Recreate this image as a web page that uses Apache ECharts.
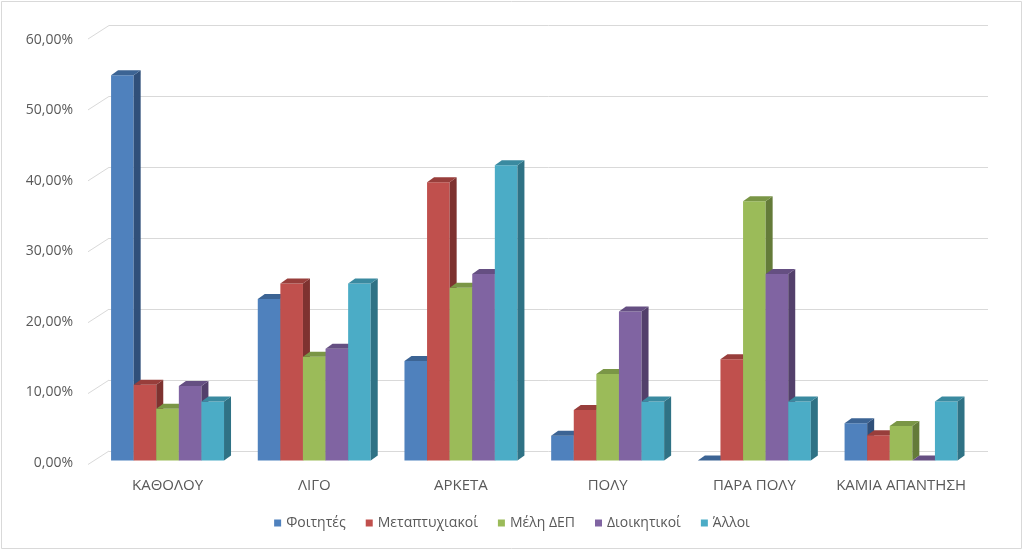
<!DOCTYPE html>
<html>
<head>
<meta charset="utf-8">
<script src="https://cdn.jsdelivr.net/npm/echarts@6/dist/echarts.min.js"></script>
<style>
html,body{margin:0;padding:0;background:#fff;}
#chart{width:1024px;height:551px;}
</style>
</head>
<body>
<div id="chart"></div>
<script>
// ---- data ----
var categories = ['ΚΑΘΟΛΟΥ', 'ΛΙΓΟ', 'ΑΡΚΕΤΑ', 'ΠΟΛΥ', 'ΠΑΡΑ ΠΟΛΥ', 'ΚΑΜΙΑ ΑΠΑΝΤΗΣΗ'];
var seriesNames = ['Φοιτητές', 'Μεταπτυχιακοί', 'Μέλη ΔΕΠ', 'Διοικητικοί', 'Άλλοι'];
var foititesValues = [54.39, 22.81, 14.04, 3.51, 0, 5.26];
var metaptyxiakoiValues = [10.71, 25.00, 39.29, 7.14, 14.29, 3.57];
var melhDepValues = [7.32, 14.63, 24.39, 12.20, 36.59, 4.88];
var dioikhtikoiValues = [10.53, 15.79, 26.32, 21.05, 26.32, 0];
var alloiValues = [8.33, 25.00, 41.67, 8.33, 8.33, 8.33];
var yTicks = [0, 10, 20, 30, 40, 50, 60];

var allValues = [foititesValues, metaptyxiakoiValues, melhDepValues, dioikhtikoiValues, alloiValues];
var colors = ['#4F81BD', '#C0504D', '#9BBB59', '#8064A2', '#4BACC6'];
var topColors = ['#3C6494', '#983E3B', '#7A9646', '#654F82', '#3A8AA0'];
var sideColors = ['#30507A', '#7E3230', '#647B39', '#53406B', '#2F7285'];

var DX = 7, DY = 5;
var FONT = '"Open Sans", "Noto Sans", sans-serif';

function makeRender(si) {
  return function (params, api) {
    var cat = api.value(0), v = api.value(1);
    var base = api.coord([cat, 0]);
    var top = api.coord([cat, v]);
    var band = api.size([1, 0])[0];
    var bw = band * 0.77 / 5;
    var x0 = base[0] - 2.5 * bw + si * bw;
    var x1 = x0 + bw;
    var yT = top[1], yB = base[1];
    return {
      type: 'group',
      children: [
        { type: 'rect', shape: { x: x0, y: yT, width: bw, height: yB - yT }, style: { fill: colors[si] } },
        { type: 'polygon', shape: { points: [[x1, yT], [x1 + DX, yT - DY], [x1 + DX, yB - DY], [x1, yB]] }, style: { fill: sideColors[si] } },
        { type: 'polygon', shape: { points: [[x0, yT], [x1, yT], [x1 + DX, yT - DY], [x0 + DX, yT - DY]] }, style: { fill: topColors[si] } }
      ]
    };
  };
}

var series = [];
// left wall diagonal gridlines on back wall grid
series.push({
  type: 'custom',
  xAxisIndex: 0, yAxisIndex: 0,
  silent: true,
  data: yTicks.map(function (t) { return [0, t]; }),
  renderItem: function (params, api) {
    var p = api.coord([0, api.value(1)]);
    return { type: 'line', shape: { x1: p[0], y1: p[1], x2: p[0] - 21, y2: p[1] + 13.5 }, style: { stroke: '#D9D9D9', lineWidth: 1 } };
  },
  z: 1
});
allValues.forEach(function (vals, si) {
  series.push({
    type: 'custom',
    name: seriesNames[si],
    xAxisIndex: 1, yAxisIndex: 1,
    itemStyle: { color: colors[si] },
    data: vals.map(function (v, i) { return [i, v]; }),
    renderItem: makeRender(si),
    z: 5
  });
});

var chart = echarts.init(document.getElementById('chart'), null, { renderer: 'canvas' });
chart.setOption({
  animation: false,
  backgroundColor: '#ffffff',
  graphic: [{
    type: 'rect', shape: { x: 1.5, y: 1.5, width: 1020, height: 547 },
    style: { fill: 'none', stroke: '#D9D9D9', lineWidth: 1 }, z: -1
  }],
  legend: {
    data: seriesNames,
    bottom: 16,
    left: 'center',
    icon: 'rect',
    itemWidth: 7,
    itemHeight: 7,
    itemGap: 20,
    textStyle: { color: '#595959', fontSize: 14, fontFamily: FONT }
  },
  grid: [
    { left: 109, top: 25.5, width: 879, height: 425.5 },   // back wall
    { left: 94.2, top: 35.5, width: 880.2, height: 425 },  // bar plane
    { left: 88, top: 40, width: 880, height: 423 }         // front plane (labels)
  ],
  xAxis: [
    { gridIndex: 0, type: 'value', min: 0, max: 1, show: false },
    { gridIndex: 1, type: 'category', data: categories,
      axisLine: { show: false }, axisTick: { show: false },
      axisLabel: { color: '#595959', fontSize: 15, fontFamily: FONT, margin: 18, interval: 0, hideOverlap: false } },
    { gridIndex: 2, type: 'value', min: 0, max: 1, show: false }
  ],
  yAxis: [
    { gridIndex: 0, type: 'value', min: 0, max: 60, interval: 10,
      axisLine: { show: false }, axisTick: { show: false }, axisLabel: { show: false },
      splitLine: { show: true, lineStyle: { color: '#D9D9D9', width: 1 } } },
    { gridIndex: 1, type: 'value', min: 0, max: 60, interval: 10, show: false },
    { gridIndex: 2, type: 'value', min: 0, max: 60, interval: 10,
      axisLine: { show: false }, axisTick: { show: false },
      splitLine: { show: false },
      axisLabel: { color: '#595959', fontSize: 14, fontFamily: FONT, margin: 15,
        formatter: function (v) { return v.toFixed(2).replace('.', ',') + '%'; } } }
  ],
  series: series
});
</script>
</body>
</html>
